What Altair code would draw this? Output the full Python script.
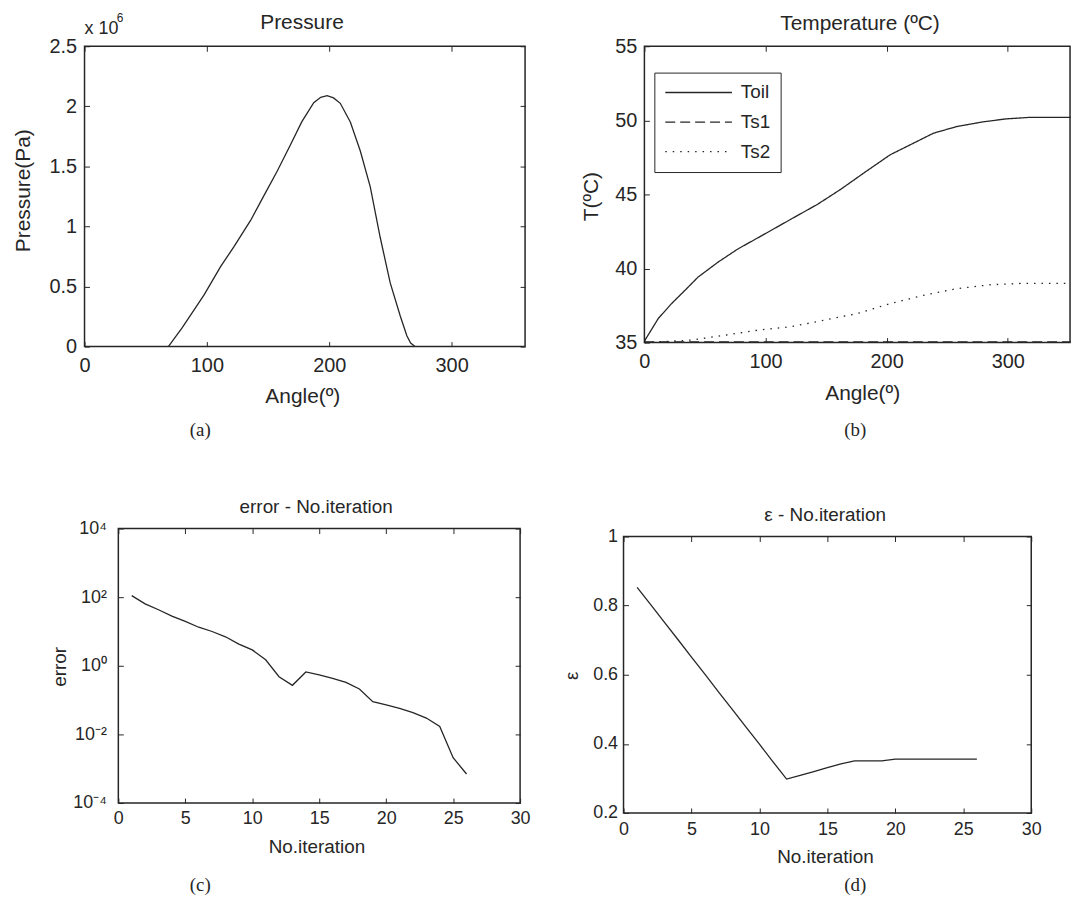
import altair as alt
import pandas as pd

FONT = "Liberation Sans"
SERIF = "Liberation Serif"
INK = "#262626"

# ---------------- (a) Pressure ----------------
a_angle = [68.5, 80, 97.7, 111.3, 122, 135.7, 146.6, 157.5, 168.3, 177.5, 187.3, 193, 198.2,
           203.5, 209, 217.2, 225.3, 233.5, 241.6, 249.8, 258, 263.4, 266.5, 270]
a_press_mpa = [0.0, 0.16, 0.43, 0.667, 0.83, 1.05, 1.257, 1.462, 1.68, 1.87, 2.03, 2.075, 2.088,
               2.07, 2.025, 1.87, 1.63, 1.33, 0.91, 0.53, 0.255, 0.09, 0.03, 0.0]
a_xticks = [0, 100, 200, 300]
a_yticks = [0, 0.5e6, 1.0e6, 1.5e6, 2.0e6, 2.5e6]

# ---------------- (b) Temperature ----------------
b_toil_angle = [0, 11.5, 22.4, 33.4, 44.3, 60.8, 77.2, 99.1, 121, 142.9, 162, 181.2, 203, 222.2,
                238.6, 257.8, 279.7, 298.8, 318, 352]
b_toil = [35.1, 36.63, 37.63, 38.52, 39.42, 40.43, 41.32, 42.32, 43.33, 44.33, 45.34, 46.45, 47.68,
          48.46, 49.13, 49.58, 49.9, 50.1, 50.2, 50.2]
b_ts1_angle = [0, 100, 200, 300, 352]
b_ts1 = [35.05, 35.05, 35.05, 35.05, 35.05]
b_ts2_angle = [0, 38.8, 66.3, 93.6, 121, 148.3, 175.7, 189.4, 203, 230.4, 257.8, 285.2, 312.6, 352]
b_ts2 = [35.0, 35.17, 35.5, 35.84, 36.07, 36.51, 36.96, 37.3, 37.63, 38.19, 38.64, 38.9, 39.0, 39.0]
b_series = ["Toil", "Ts1", "Ts2"]
b_xticks = [0, 100, 200, 300]
b_yticks = [35, 40, 45, 50, 55]

# ---------------- (c) error ----------------
c_iter = list(range(1, 27))
c_error = [111, 64, 43, 28, 19.6, 13.3, 10, 7.0, 4.3, 2.9, 1.5, 0.48, 0.27, 0.66, 0.54, 0.43,
           0.33, 0.21, 0.09, 0.073, 0.057, 0.043, 0.03, 0.017, 0.0021, 0.0007]
c_xticks = [0, 5, 10, 15, 20, 25, 30]
c_yticks = [1e-4, 1e-2, 1, 1e2, 1e4]

# ---------------- (d) epsilon ----------------
d_iter = list(range(1, 27))
d_eps = [0.853, 0.803, 0.752, 0.702, 0.651, 0.601, 0.550, 0.500, 0.449, 0.399, 0.348, 0.298,
         0.309, 0.320, 0.331, 0.342, 0.351, 0.351, 0.351, 0.356, 0.356, 0.356, 0.356, 0.356,
         0.356, 0.356]
d_xticks = [0, 5, 10, 15, 20, 25, 30]
d_yticks = [0.2, 0.4, 0.6, 0.8, 1.0]

# ---------------- helpers ----------------
def xaxis(values, H, title, tx, ty, lsize, tsize, pad):
    return alt.Axis(values=values, title=title, titleX=tx, titleY=ty, titleBaseline="alphabetic",
                    titleAlign="center", labelFontSize=lsize, titleFontSize=tsize, labelPadding=pad,
                    gridDash=[5, H - 10, 5, 4000], labelFlush=False, labelOverlap=False)


def yaxis(values, W, title, tx, ty, lsize, tsize, pad, expr=None):
    kw = dict(values=values, title=title, titleX=tx, titleY=ty, titleAngle=270,
              titleBaseline="alphabetic", titleAlign="center", labelFontSize=lsize,
              titleFontSize=tsize, labelPadding=pad, gridDash=[5, W - 10, 5, 4000],
              labelFlush=False, labelOverlap=False)
    if expr:
        kw["labelExpr"] = expr
    return alt.Axis(**kw)


def text_layer(txt, x, y, size, font=FONT, align="center"):
    return alt.Chart(pd.DataFrame({"t": [txt]})).mark_text(
        font=font, fontSize=size, align=align, baseline="alphabetic", color=INK
    ).encode(text="t:N", x=alt.value(x), y=alt.value(y))


def spacer(w, h):
    return alt.Chart(pd.DataFrame({"v": [0]})).mark_point(opacity=0, size=1).encode(
        x=alt.value(0), y=alt.value(0)
    ).properties(width=w, height=h, view=alt.ViewBackground(stroke="transparent"))

# ---------------- panel A ----------------
WA, HA = 443, 302
dfa = pd.DataFrame({"angle": a_angle, "p": [v * 1e6 for v in a_press_mpa]})
lineA = alt.Chart(dfa).mark_line(color=INK, strokeWidth=1.3).encode(
    x=alt.X("angle:Q", scale=alt.Scale(domain=[0, 360], nice=False, zero=False),
            axis=xaxis(a_xticks, HA, "Angle(º)", 219, 56.3, 20, 21, 9)),
    y=alt.Y("p:Q", scale=alt.Scale(domain=[0, 2.5e6], nice=False),
            axis=yaxis(a_yticks, WA, "Pressure(Pa)", -55.3, 144.8, 20, 21, 8,
                       "'' + (datum.value / 1000000)")),
)
A = alt.layer(
    lineA,
    text_layer("Pressure", 218.7, -17.7, 21),
    text_layer("x 10", 0, -12.7, 18, align="left"),
    text_layer("6", 32.5, -24, 12, align="left"),
    text_layer("(a)", 116.3, 392, 19, font=SERIF),
).properties(width=WA, height=HA)

# ---------------- panel B ----------------
WB, HB = 428, 298
rows = []
for a, v in zip(b_toil_angle, b_toil):
    rows.append({"angle": a, "T": v, "s": "Toil"})
for a, v in zip(b_ts1_angle, b_ts1):
    rows.append({"angle": a, "T": v, "s": "Ts1"})
for a, v in zip(b_ts2_angle, b_ts2):
    rows.append({"angle": a, "T": v, "s": "Ts2"})
dfb = pd.DataFrame(rows)
lineB = alt.Chart(dfb).mark_line(color=INK, strokeWidth=1.3).encode(
    x=alt.X("angle:Q", scale=alt.Scale(domain=[0, 351.4], nice=False, zero=False),
            axis=xaxis(b_xticks, HB, "Angle(º)", 219, 57, 20, 21, 9)),
    y=alt.Y("T:Q", scale=alt.Scale(domain=[35, 55], nice=False, zero=False),
            axis=yaxis(b_yticks, 438.6, "T(ºC)", -46.7, 150.7, 20, 21, 7.7)),
    strokeDash=alt.StrokeDash(
        "s:N",
        scale=alt.Scale(domain=b_series, range=[[1, 0], [10, 5], [1.5, 6]]),
        legend=alt.Legend(orient="none", legendX=10, legendY=26.5, title=None, padding=10,
                          strokeColor=INK, fillColor="white", symbolType="stroke",
                          symbolSize=4489, symbolStrokeWidth=1.3, symbolStrokeColor=INK,
                          clipHeight=20, rowPadding=9.7, labelOffset=8, labelFontSize=19,
                          labelFont=FONT, labelColor=INK),
    ),
    detail="s:N",
)
B = alt.layer(
    lineB,
    text_layer("Temperature (ºC)", 216.8, -16.7, 21),
    text_layer("(b)", 212, 392, 19, font=SERIF),
).properties(width=WB, height=HB)

# ---------------- panel C ----------------
WC, HC = 404, 276
dfc = pd.DataFrame({"it": c_iter, "err": c_error})
log_expr = ("datum.value >= 1000 ? '10⁴' : datum.value >= 10 ? '10²' : datum.value >= 0.1 ? '10⁰' : "
            "datum.value >= 0.001 ? '10⁻²' : '10⁻⁴'")
lineC = alt.Chart(dfc).mark_line(color=INK, strokeWidth=1.3).encode(
    x=alt.X("it:Q", scale=alt.Scale(domain=[0, 30], nice=False, zero=False),
            axis=xaxis(c_xticks, HC, "No.iteration", 199.2, 49.3, 18, 19, 6.5)),
    y=alt.Y("err:Q", scale=alt.Scale(type="log", domain=[1e-4, 1e4], nice=False),
            axis=yaxis(c_yticks, WC, "error", -53.4, 138.5, 18, 19, 12, log_expr)),
)
C = alt.layer(
    lineC,
    text_layer("error - No.iteration", 198.9, -15.3, 19),
    text_layer("(c)", 82.3, 364.7, 19, font=SERIF),
).properties(width=WC, height=HC)

# ---------------- panel D ----------------
WD, HD = 410, 278
dfd = pd.DataFrame({"it": d_iter, "eps": d_eps})
lineD = alt.Chart(dfd).mark_line(color=INK, strokeWidth=1.3).encode(
    x=alt.X("it:Q", scale=alt.Scale(domain=[0, 30], nice=False, zero=False),
            axis=xaxis(d_xticks, HD, "No.iteration", 202.5, 50, 18, 19, 8)),
    y=alt.Y("eps:Q", scale=alt.Scale(domain=[0.2, 1.0], nice=False, zero=False),
            axis=yaxis(d_yticks, WD, "ε", -46.7, 139.5, 18, 19, 6,
                       "datum.value == 1 ? '1' : format(datum.value, '.1f')")),
)
D = alt.layer(
    lineD,
    text_layer("ε - No.iteration", 202.8, -15.3, 19),
    text_layer("(d)", 233, 356, 19, font=SERIF),
).properties(width=WD, height=HD)

# ---------------- layout ----------------
row1 = alt.hconcat(spacer(83, 1), A, spacer(120, 1), B, spacing=0, bounds="flush") \
    .resolve_scale(strokeDash="independent").resolve_legend(strokeDash="independent")
d_col = alt.vconcat(spacer(1, 8), D, spacing=0, bounds="flush")
row2 = alt.hconcat(spacer(117, 1), C, spacer(104, 1), d_col, spacing=0, bounds="flush")

chart = alt.vconcat(row1, row2, spacing=56, bounds="full") \
    .resolve_scale(strokeDash="independent").resolve_legend(strokeDash="independent") \
    .properties(padding={"left": 0, "top": 8, "right": 0, "bottom": 0}) \
    .configure_view(stroke=INK, strokeWidth=1.5) \
    .configure_axis(
        labelFont=FONT, titleFont=FONT, labelColor=INK, titleColor=INK, titleFontWeight="normal",
        domain=False, ticks=False, tickSize=0, grid=True, gridColor=INK, gridOpacity=1, gridWidth=1,
    )

chart.save("out.html", embed_options={"renderer": "svg", "actions": False})
